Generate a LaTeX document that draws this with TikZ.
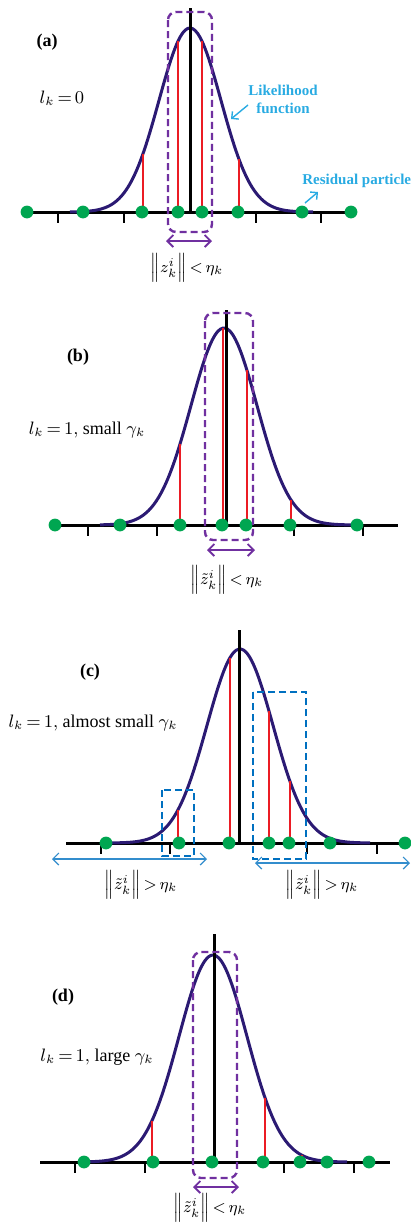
\documentclass[tikz,border=0pt]{standalone}
\usepackage{amsmath}
\usepackage{fontspec}
\setmainfont{Liberation Serif}
\usetikzlibrary{arrows.meta}

\definecolor{curvecol}{RGB}{43,26,115}
\definecolor{barcol}{RGB}{235,28,36}
\definecolor{dotcol}{RGB}{0,166,81}
\definecolor{etacol}{RGB}{112,48,160}
\definecolor{notecol}{RGB}{41,171,226}
\definecolor{farcol}{RGB}{0,112,192}

\newcommand{\tightmath}{\thickmuskip 3mu\relax}

\tikzset{
  axisline/.style={line width=1.5pt, black},
  tickmark/.style={line width=1.4pt, black},
  peakline/.style={line width=1.5pt, black},
  likcurve/.style={line width=1.5pt, curvecol, smooth, samples=100},
  redbar/.style={line width=1.3pt, barcol},
  particle/.style={dotcol},
  etabox/.style={etacol, line width=1.2pt, dash pattern=on 3.5pt off 2pt, rounded corners=4pt},
  farbox/.style={farcol, line width=1.2pt, dash pattern=on 3.5pt off 2pt},
  etaarrow/.style={etacol, line width=0.9pt, {Straight Barb[length=3pt,width=6pt]}-{Straight Barb[length=3pt,width=6pt]}},
  fararrow/.style={farcol!80!white, line width=0.6pt, {Straight Barb[length=3pt,width=6pt]}-{Straight Barb[length=3pt,width=6pt]}},
  notearrow/.style={notecol, line width=0.7pt, -{Straight Barb[length=2.5pt,width=5pt]}},
  panellabel/.style={inner sep=0pt, font=\bfseries\fontsize{9}{10}\selectfont},
  condlabel/.style={inner sep=0pt, font=\fontsize{9}{11}\selectfont\tightmath},
  normlabel/.style={inner sep=0pt, font=\fontsize{8.5}{10}\selectfont\tightmath},
  notetext/.style={inner sep=0pt, text=notecol, align=center, font=\bfseries\fontsize{7.5}{9}\selectfont}
}

\begin{document}
\begin{tikzpicture}[x=0.5pt, y=-0.5pt]
  \useasboundingbox (0,0) rectangle (411,1227);

  % ---------- panel (a) ----------
  \draw[axisline] (25,212) -- (353,212);
  \foreach \tx in {58,124,256,321}
    \draw[tickmark] (\tx,212) -- (\tx,223);
  \draw[likcurve] plot[domain=70:313] (\x, {212-184*exp(-((\x-190)/31)*((\x-190)/31)/2)});
  \foreach \rx in {143,178,202,239} {
    \pgfmathsetmacro{\ry}{212-184*exp(-((\rx-190)/31)*((\rx-190)/31)/2)}
    \draw[redbar] (\rx,212) -- (\rx,\ry);
  }
  \draw[peakline] (190,8) -- (190,212);
  \foreach \px in {27,83,142,178,202,238,302,351}
    \fill[particle] (\px,212) circle (3.2pt);
  \draw[etabox] (168,12) rectangle (212,232);
  \coordinate (etaAl) at (166,241);
  \coordinate (etaAr) at (212,241);
  \draw[etaarrow] (etaAl) -- (etaAr);

  \node[panellabel] (labA) at (47,42) {(a)};
  \node[condlabel] (condA) at (62,98) {$l_k = 0$};
  \node[notetext] (likeTxt) at (283,99) {Likelihood\\function};
  \node[notetext, anchor=west] (resTxt) at (302,181) {Residual particles};
  \node[normlabel] (normA) at (187,268) {$\Big\|z_k^i\Big\| < \eta_k$};
  \coordinate (likeTip) at (231,119);
  \draw[notearrow] ([yshift=-3pt]likeTxt.west) -- (likeTip);
  \coordinate (resFoot) at (305,203);
  \coordinate (resHead) at (318,192);
  \draw[notearrow] (resFoot) -- (resHead);

  % ---------- panel (b) ----------
  \draw[axisline] (53,525) -- (398,525);
  \foreach \tx in {88,157,294,363}
    \draw[tickmark] (\tx,525) -- (\tx,536);
  \draw[likcurve] plot[domain=100:353] (\x, {525-197*exp(-((\x-224)/33)*((\x-224)/33)/2)});
  \foreach \rx in {180,223,247,291} {
    \pgfmathsetmacro{\ry}{525-197*exp(-((\rx-224)/33)*((\rx-224)/33)/2)}
    \draw[redbar] (\rx,525) -- (\rx,\ry);
  }
  \draw[peakline] (226,310) -- (226,525);
  \foreach \px in {55,120,180,222,246,290,357}
    \fill[particle] (\px,525) circle (3.2pt);
  \draw[etabox] (205,313) rectangle (253,540);
  \coordinate (etaBl) at (207,550);
  \coordinate (etaBr) at (255,550);
  \draw[etaarrow] (etaBl) -- (etaBr);

  \node[panellabel] (labB) at (78,357) {(b)};
  \node[condlabel] (condB) at (87,430) {$l_k = 1,$ small $\gamma_k$};
  \node[normlabel] (normB) at (227,580) {$\Big\|\tilde{z}_k^i\Big\| < \eta_k$};

  % ---------- panel (c) ----------
  \draw[axisline] (66,843) -- (411,843);
  \foreach \tx in {101,170,307,377}
    \draw[tickmark] (\tx,843) -- (\tx,854);
  \draw[likcurve] plot[domain=110:370] (\x, {843-194*exp(-((\x-240)/33)*((\x-240)/33)/2)});
  \foreach \rx in {178,230,269,290} {
    \pgfmathsetmacro{\ry}{843-194*exp(-((\rx-240)/33)*((\rx-240)/33)/2)}
    \draw[redbar] (\rx,843) -- (\rx,\ry);
  }
  \draw[peakline] (239,630) -- (239,843);
  \foreach \px in {106,179,229,269,289,330,405}
    \fill[particle] (\px,843) circle (3.2pt);
  \draw[farbox] (162,790) rectangle (194,856);
  \draw[farbox] (253,692) rectangle (306,859);
  \coordinate (farLl) at (52,859);
  \coordinate (farLr) at (207,859);
  \coordinate (farRl) at (255,863);
  \coordinate (farRr) at (410,863);
  \draw[fararrow] (farLl) -- (farLr);
  \draw[fararrow] (farRl) -- (farRr);

  \node[panellabel] (labC) at (90,672) {(c)};
  \node[condlabel] (condC) at (93,723) {$l_k = 1,$ almost small $\gamma_k$};
  \node[normlabel] (normCl) at (141,885) {$\Big\|\tilde{z}_k^i\Big\| > \eta_k$};
  \node[normlabel] (normCr) at (322,885) {$\Big\|\tilde{z}_k^i\Big\| > \eta_k$};

  % ---------- panel (d) ----------
  \draw[axisline] (40,1162) -- (390,1162);
  \foreach \tx in {75,145,284,354}
    \draw[tickmark] (\tx,1162) -- (\tx,1173);
  \draw[likcurve] plot[domain=83:347] (\x, {1162-207*exp(-((\x-213)/34)*((\x-213)/34)/2)});
  \foreach \rx in {152,215,265,302} {
    \pgfmathsetmacro{\ry}{1162-207*exp(-((\rx-213)/34)*((\rx-213)/34)/2)}
    \draw[redbar] (\rx,1162) -- (\rx,\ry);
  }
  \draw[peakline] (214,934) -- (214,1162);
  \foreach \px in {84,153,212,263,300,327,369}
    \fill[particle] (\px,1162) circle (3.2pt);
  \draw[etabox] (193,952) rectangle (237,1178);
  \coordinate (etaDl) at (193,1187);
  \coordinate (etaDr) at (239,1187);
  \draw[etaarrow] (etaDl) -- (etaDr);

  \node[panellabel] (labD) at (63,997) {(d)};
  \node[condlabel] (condD) at (97,1057) {$l_k = 1,$ large $\gamma_k$};
  \node[normlabel] (normD) at (210,1208) {$\Big\|\tilde{z}_k^i\Big\| < \eta_k$};
\end{tikzpicture}
\end{document}
